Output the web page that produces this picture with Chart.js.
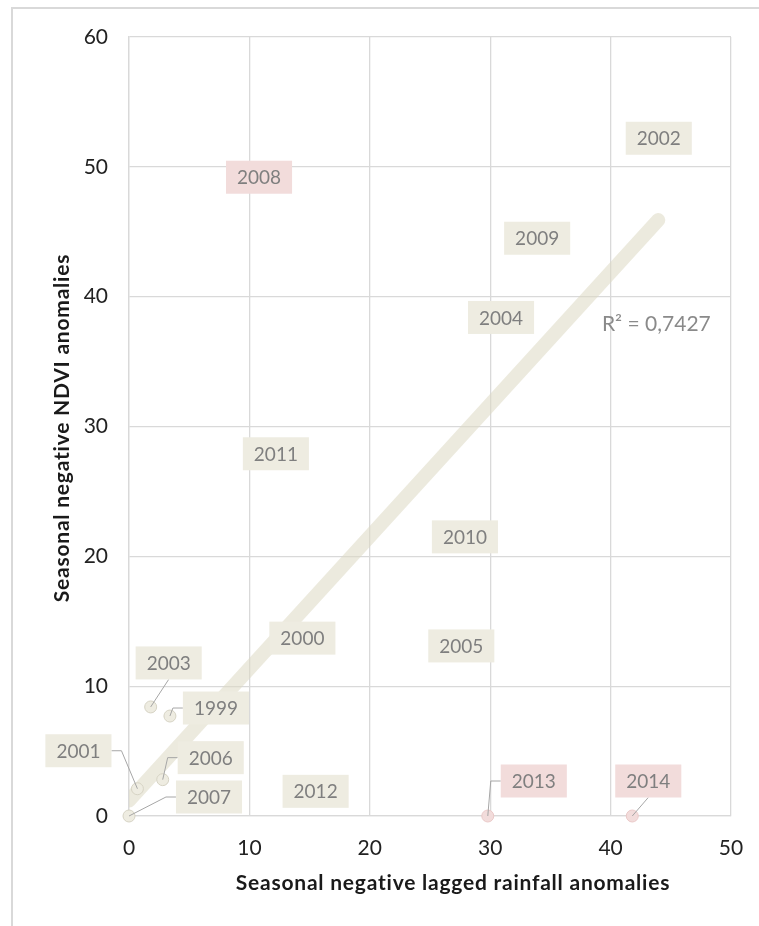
<!DOCTYPE html>
<html>
<head>
<meta charset="utf-8">
<script src="https://cdn.jsdelivr.net/npm/chart.js@4.4.1/dist/chart.umd.min.js"></script>
<style>
  html, body { margin: 0; padding: 0; background: #fff; }
  #wrap { width: 759px; height: 926px; }
</style>
</head>
<body>
<div id="wrap"><canvas id="scatter" width="759" height="926"></canvas></div>
<script>
// years and their seasonal anomalies
const years    = ['1999', '2000', '2001', '2002', '2003', '2004', '2005', '2006', '2007', '2008', '2009', '2010', '2011', '2012', '2013', '2014'];
const rainfall = [3.4, 14.4, 0.7, 44.0, 1.8, 30.9, 27.6, 2.8, 0, 10.8, 33.9, 27.9, 12.2, 15.5, 29.8, 41.8];
const ndvi     = [7.7, 13.7, 2.1, 52.2, 8.4, 38.4, 13.1, 2.8, 0, 49.2, 44.5, 21.5, 27.9, 1.9, 0, 0];
const redYears = ['2008', '2013', '2014'];

// linear trend end points and its fit
const trendX = [0, 43.96];
const trendY = [1.2, 45.9];
const rSquared = '0,7427';

const xTicks = [0, 10, 20, 30, 40, 50];
const yTicks = [0, 10, 20, 30, 40, 50, 60];

// labels moved off their point get a leader line (pixel offsets)
const labelShift = {
    '2003': [18, -44],
    '1999': [46, -8],
    '2001': [-59, -38],
    '2006': [48, -22],
    '2007': [80, -19],
    '2013': [46, -35],
    '2014': [16, -35]
};

const FONT = 'Lato, "Open Sans", sans-serif';

function pointsFor(red) {
    const pts = [];
    years.forEach((yr, i) => {
        if (redYears.includes(yr) === red) {
            pts.push({ x: rainfall[i], y: ndvi[i], year: yr });
        }
    });
    return pts;
}

// draws text stretched to a given width (axis titles)
function fitText(ctx, text, x, y, width) {
    ctx.letterSpacing = '0px';
    const w = ctx.measureText(text).width;
    ctx.letterSpacing = ((width - w) / (text.length - 1)).toFixed(2) + 'px';
    ctx.fillText(text, x, y);
    ctx.letterSpacing = '0px';
}

const labelPlugin = {
    id: 'yearLabels',
    beforeDraw(chart) {
        const ctx = chart.ctx;
        ctx.save();
        ctx.fillStyle = '#d9d9d9';
        ctx.fillRect(11, 7, 2, chart.height);
        ctx.fillRect(11, 7, chart.width, 2);
        ctx.restore();
    },
    afterDatasetsDraw(chart) {
        const ctx = chart.ctx;
        const xs = chart.scales.x, ys = chart.scales.y;
        ctx.save();
        ctx.font = '19px ' + FONT;
        ctx.textAlign = 'center';
        ctx.textBaseline = 'middle';

        chart.data.datasets.forEach((ds, di) => {
            if (!ds.boxColor) return;
            const meta = chart.getDatasetMeta(di);
            ds.data.forEach((p, i) => {
                const el = meta.data[i];
                const shift = labelShift[p.year] || [0, 0];
                const cx = el.x + shift[0], cy = el.y + shift[1];
                const w = ctx.measureText(p.year).width + 22, h = 33;
                const left = cx - w / 2, right = cx + w / 2;

                if (labelShift[p.year]) {
                    ctx.strokeStyle = '#a6a6a6';
                    ctx.lineWidth = 1;
                    ctx.beginPath();
                    if (Math.abs(shift[0]) > w / 2) {
                        const edge = shift[0] > 0 ? left : right;
                        const stub = shift[0] > 0 ? edge - 10 : edge + 10;
                        ctx.moveTo(edge, cy);
                        ctx.lineTo(stub, cy);
                        ctx.lineTo(el.x, el.y);
                    } else {
                        const edge = shift[1] < 0 ? cy + h / 2 : cy - h / 2;
                        ctx.moveTo(cx, edge);
                        ctx.lineTo(el.x, el.y);
                    }
                    ctx.stroke();
                }

                ctx.fillStyle = ds.boxColor;
                ctx.fillRect(left, cy - h / 2, w, h);
                ctx.fillStyle = '#7f7f7f';
                ctx.fillText(p.year, cx, cy + 1);
            });
        });

        // R² of the trend
        ctx.font = '21px ' + FONT;
        ctx.fillStyle = '#8a8a8a';
        ctx.fillText('R² = ' + rSquared, xs.getPixelForValue(43.8), ys.getPixelForValue(37.9));

        // axis titles
        ctx.font = 'bold 21px ' + FONT;
        ctx.fillStyle = '#1a1a1a';
        fitText(ctx, 'Seasonal negative lagged rainfall anomalies', 453, 883, 434);
        ctx.translate(62, 428);
        ctx.rotate(-Math.PI / 2);
        fitText(ctx, 'Seasonal negative NDVI anomalies', 0, 0, 348);
        ctx.restore();
    }
};

const ctx = document.getElementById('scatter').getContext('2d');
new Chart(ctx, {
    type: 'scatter',
    data: {
        datasets: [
            {
                type: 'line',
                data: trendX.map((x, i) => ({ x: x, y: trendY[i] })),
                borderColor: 'rgba(221, 217, 195, 0.55)',
                borderWidth: 14,
                borderCapStyle: 'round',
                pointRadius: 0,
                fill: false,
                order: 3
            },
            {
                data: pointsFor(false),
                backgroundColor: '#eeece1',
                borderColor: '#d6d3c4',
                borderWidth: 1,
                pointRadius: 6,
                boxColor: '#eeece1',
                clip: false,
                order: 1
            },
            {
                data: pointsFor(true),
                backgroundColor: '#f2dcdb',
                borderColor: '#eac9c8',
                borderWidth: 1,
                pointRadius: 6,
                boxColor: '#f2dcdb',
                clip: false,
                order: 1
            }
        ]
    },
    options: {
        responsive: false,
        animation: false,
        events: [],
        layout: { padding: { left: 0, top: 37, right: 28, bottom: 0 } },
        plugins: {
            legend: { display: false },
            tooltip: { enabled: false }
        },
        scales: {
            x: {
                type: 'linear',
                min: 0,
                max: 50,
                afterFit: s => { s.height = 110; s.paddingLeft = 0; s.paddingRight = 0; },
                afterBuildTicks: s => { s.ticks = xTicks.map(v => ({ value: v })); },
                grid: { color: '#d9d9d9', lineWidth: 1.3, drawTicks: false },
                border: { color: '#d9d9d9', width: 1.3 },
                ticks: { color: '#222', padding: 20, font: { family: FONT, size: 21 } }
            },
            y: {
                type: 'linear',
                min: 0,
                max: 60,
                afterFit: s => { s.width = 129; s.paddingTop = 0; s.paddingBottom = 0; },
                afterBuildTicks: s => { s.ticks = yTicks.map(v => ({ value: v })); },
                grid: { color: '#d9d9d9', lineWidth: 1.3, drawTicks: false },
                border: { color: '#d9d9d9', width: 1.3 },
                ticks: { color: '#222', padding: 21, font: { family: FONT, size: 21 } }
            }
        }
    },
    plugins: [labelPlugin]
});
</script>
</body>
</html>
